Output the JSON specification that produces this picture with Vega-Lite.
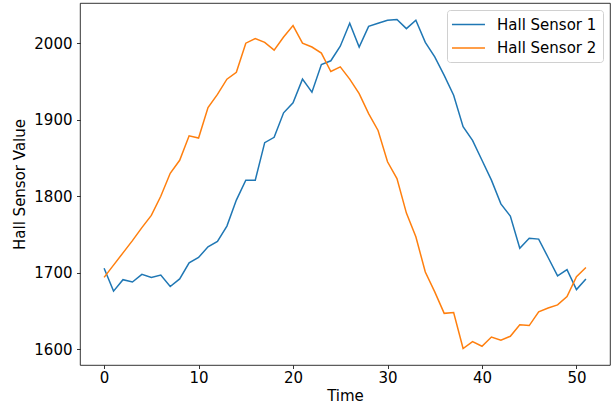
{
  "$schema": "https://vega.github.io/schema/vega-lite/v6.json",
  "autosize": "none",
  "width": 530,
  "height": 362,
  "padding": {"left": 80, "top": 3, "right": 6, "bottom": 42},
  "background": "white",
  "config": {
    "font": "DejaVu Sans",
    "view": {"stroke": "#000", "strokeWidth": 0.8},
    "axis": {"grid": false, "domain": false, "tickColor": "#000", "tickWidth": 0.8, "tickSize": 3.5, "labelFontSize": 15, "labelColor": "#000", "titleFontSize": 15, "titleFontWeight": "normal", "titleColor": "#000"}
  },
  "data": {"values": [
    {"Time":0,"Hall Sensor 1":1706,"Hall Sensor 2":1694},
    {"Time":1,"Hall Sensor 1":1676,"Hall Sensor 2":1710},
    {"Time":2,"Hall Sensor 1":1691,"Hall Sensor 2":1726},
    {"Time":3,"Hall Sensor 1":1688,"Hall Sensor 2":1742},
    {"Time":4,"Hall Sensor 1":1698,"Hall Sensor 2":1759},
    {"Time":5,"Hall Sensor 1":1694,"Hall Sensor 2":1775},
    {"Time":6,"Hall Sensor 1":1697,"Hall Sensor 2":1800},
    {"Time":7,"Hall Sensor 1":1682,"Hall Sensor 2":1830},
    {"Time":8,"Hall Sensor 1":1692,"Hall Sensor 2":1847},
    {"Time":9,"Hall Sensor 1":1713,"Hall Sensor 2":1879},
    {"Time":10,"Hall Sensor 1":1720,"Hall Sensor 2":1876},
    {"Time":11,"Hall Sensor 1":1734,"Hall Sensor 2":1916},
    {"Time":12,"Hall Sensor 1":1741,"Hall Sensor 2":1933},
    {"Time":13,"Hall Sensor 1":1761,"Hall Sensor 2":1953},
    {"Time":14,"Hall Sensor 1":1795,"Hall Sensor 2":1962},
    {"Time":15,"Hall Sensor 1":1821,"Hall Sensor 2":2000},
    {"Time":16,"Hall Sensor 1":1821,"Hall Sensor 2":2006},
    {"Time":17,"Hall Sensor 1":1870,"Hall Sensor 2":2001},
    {"Time":18,"Hall Sensor 1":1877,"Hall Sensor 2":1991},
    {"Time":19,"Hall Sensor 1":1909,"Hall Sensor 2":2008},
    {"Time":20,"Hall Sensor 1":1922,"Hall Sensor 2":2023},
    {"Time":21,"Hall Sensor 1":1953,"Hall Sensor 2":2000},
    {"Time":22,"Hall Sensor 1":1936,"Hall Sensor 2":1995},
    {"Time":23,"Hall Sensor 1":1972,"Hall Sensor 2":1987},
    {"Time":24,"Hall Sensor 1":1977,"Hall Sensor 2":1963},
    {"Time":25,"Hall Sensor 1":1996,"Hall Sensor 2":1969},
    {"Time":26,"Hall Sensor 1":2026,"Hall Sensor 2":1953},
    {"Time":27,"Hall Sensor 1":1995,"Hall Sensor 2":1934},
    {"Time":28,"Hall Sensor 1":2022,"Hall Sensor 2":1908},
    {"Time":29,"Hall Sensor 1":2026,"Hall Sensor 2":1886},
    {"Time":30,"Hall Sensor 1":2030,"Hall Sensor 2":1845},
    {"Time":31,"Hall Sensor 1":2031,"Hall Sensor 2":1823},
    {"Time":32,"Hall Sensor 1":2019,"Hall Sensor 2":1778},
    {"Time":33,"Hall Sensor 1":2030,"Hall Sensor 2":1747},
    {"Time":34,"Hall Sensor 1":2001,"Hall Sensor 2":1701},
    {"Time":35,"Hall Sensor 1":1982,"Hall Sensor 2":1675},
    {"Time":36,"Hall Sensor 1":1958,"Hall Sensor 2":1647},
    {"Time":37,"Hall Sensor 1":1932,"Hall Sensor 2":1648},
    {"Time":38,"Hall Sensor 1":1891,"Hall Sensor 2":1601},
    {"Time":39,"Hall Sensor 1":1873,"Hall Sensor 2":1610},
    {"Time":40,"Hall Sensor 1":1847,"Hall Sensor 2":1604},
    {"Time":41,"Hall Sensor 1":1821,"Hall Sensor 2":1616},
    {"Time":42,"Hall Sensor 1":1790,"Hall Sensor 2":1612},
    {"Time":43,"Hall Sensor 1":1774,"Hall Sensor 2":1617},
    {"Time":44,"Hall Sensor 1":1732,"Hall Sensor 2":1632},
    {"Time":45,"Hall Sensor 1":1745,"Hall Sensor 2":1631},
    {"Time":46,"Hall Sensor 1":1744,"Hall Sensor 2":1649},
    {"Time":47,"Hall Sensor 1":1720,"Hall Sensor 2":1654},
    {"Time":48,"Hall Sensor 1":1696,"Hall Sensor 2":1658},
    {"Time":49,"Hall Sensor 1":1704,"Hall Sensor 2":1669},
    {"Time":50,"Hall Sensor 1":1678,"Hall Sensor 2":1695},
    {"Time":51,"Hall Sensor 1":1692,"Hall Sensor 2":1707}
  ]},
  "transform": [{"fold": ["Hall Sensor 1", "Hall Sensor 2"], "as": ["sensor", "value"]}],
  "mark": {"type": "line", "strokeWidth": 1.5, "clip": true},
  "encoding": {
    "x": {"field": "Time", "type": "quantitative", "scale": {"domain": [-2.55, 53.55], "nice": false, "zero": false},
      "axis": {"values": [0, 10, 20, 30, 40, 50], "format": "d", "title": "Time", "titlePadding": 3, "labelPadding": 2}},
    "y": {"field": "value", "type": "quantitative", "scale": {"domain": [1579.5, 2052.5], "nice": false, "zero": false},
      "axis": {"values": [1600, 1700, 1800, 1900, 2000], "format": "d", "title": "Hall Sensor Value", "titlePadding": 6, "labelPadding": 4.5}},
    "color": {"field": "sensor", "type": "nominal",
      "scale": {"domain": ["Hall Sensor 1", "Hall Sensor 2"], "range": ["#1f77b4", "#ff7f0e"]},
      "legend": {"title": null, "orient": "top-right", "offset": 7, "padding": 6, "fillColor": "white", "strokeColor": "#d0d0d0", "cornerRadius": 3,
        "symbolType": "M-1.27,0H3.13", "symbolSize": 225, "symbolStrokeWidth": 1.5, "labelFontSize": 15, "labelColor": "#000", "labelOffset": 27, "rowPadding": 6.4}}
  }
}
